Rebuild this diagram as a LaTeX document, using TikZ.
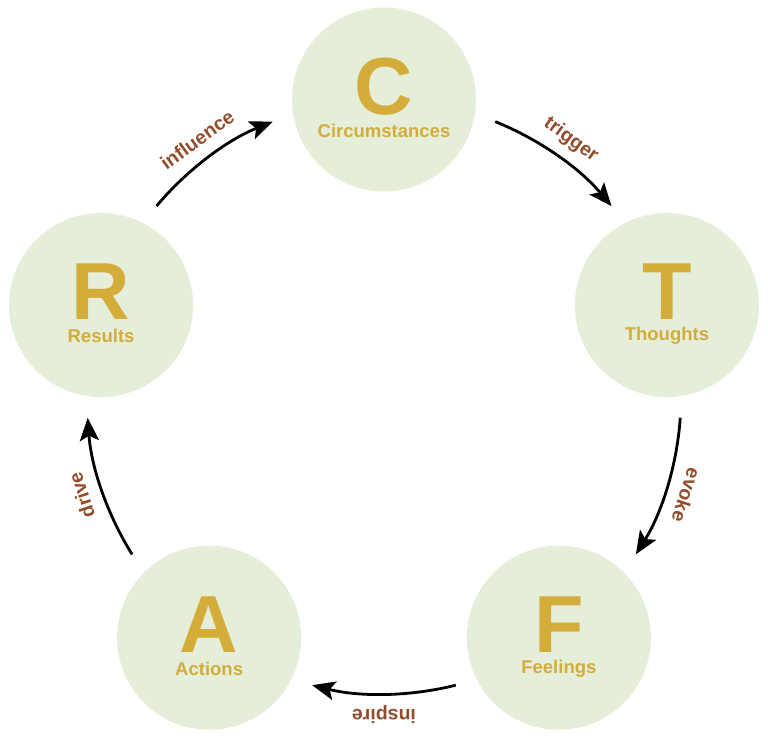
\documentclass[tikz,border=0pt]{standalone}
\usepackage{fontspec}
\setmainfont{Liberation Sans}
\usetikzlibrary{arrows.meta}
\definecolor{circfill}{RGB}{228,238,216}
\definecolor{gold}{RGB}{212,172,58}
\definecolor{brownlab}{RGB}{146,78,44}
\begin{document}
\begin{tikzpicture}[x=1pt,y=1pt,
  stage/.style={circle,fill=circfill,minimum size=184pt,inner sep=0pt},
  bigletter/.style={text=gold,font=\fontsize{81}{81}\selectfont\bfseries,inner sep=0pt},
  stagename/.style={text=gold,font=\fontsize{18.5}{18.5}\selectfont\bfseries,inner sep=0pt},
  conn/.style={draw=black,line width=2.8pt,-{Stealth[length=23pt,width=19pt,inset=5pt]}},
  verb/.style={text=brownlab,font=\fontsize{19.5}{19.5}\selectfont\bfseries,inner sep=0pt}]
\useasboundingbox (-384,-341) rectangle (384,397);
\fill[white] (-384,-341) rectangle (384,397);
\def\R{297.5}
\def\Ra{297}
\def\Rl{318}
% stages
\foreach \n/\a/\L/\txt in {C/90/C/Circumstances, T/18/T/Thoughts, F/-54/F/Feelings, A/234/A/Actions, R/162/R/Results}{
  \node[stage] (\n) at (\a:\R) {};
  \node[bigletter] (\n l) at ([yshift=13pt]\n.center) {\L};
  \node[stagename] (\n t) at ([yshift=-31pt]\n.center) {\txt};
}
% connector end points
\coordinate (ct1) at (68:\Ra);
\coordinate (tf1) at (-4:\Ra);
\coordinate (fa1) at (-76:\Ra);
\coordinate (ar1) at (212:\Ra);
\coordinate (rc1) at (140:\Ra);
\draw[conn] (ct1) arc[start angle=68,end angle=40,radius=\Ra];
\draw[conn] (tf1) arc[start angle=-4,end angle=-32,radius=\Ra];
\draw[conn] (fa1) arc[start angle=-76,end angle=-104,radius=\Ra];
\draw[conn] (ar1) arc[start angle=212,end angle=184,radius=\Ra];
\draw[conn] (rc1) arc[start angle=140,end angle=112,radius=\Ra];
% labels
\node[verb,rotate=-36] (lt) at (54:\Rl) {trigger};
\node[verb,rotate=-108] (le) at (-18:\Rl) {evoke};
\node[verb,rotate=180] (li) at (-90:\Rl) {inspire};
\node[verb,rotate=108] (ld) at (198:\Rl) {drive};
\node[verb,rotate=36] (lf) at (126:\Rl) {influence};
\end{tikzpicture}
\end{document}
